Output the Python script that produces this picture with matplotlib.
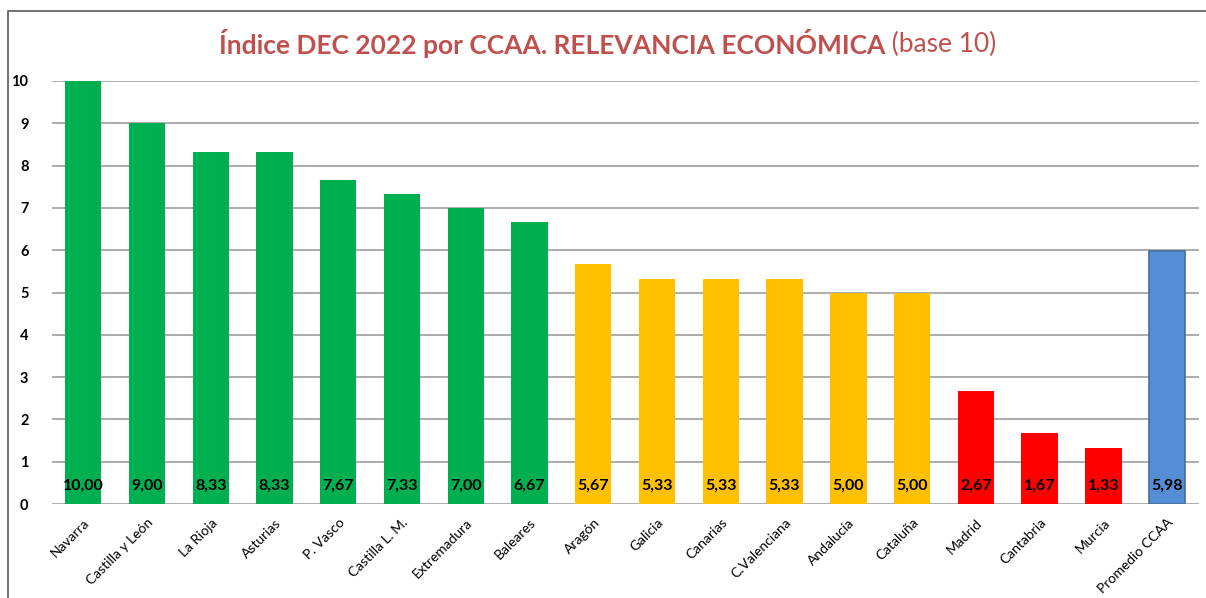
import numpy as np
import matplotlib.pyplot as plt
from matplotlib.patches import Rectangle

regiones = ['Navarra', 'Castilla y León', 'La Rioja', 'Asturias', 'P. Vasco',
            'Castilla L. M.', 'Extremadura', 'Baleares', 'Aragón', 'Galicia',
            'Canarias', 'C.Valenciana', 'Andalucía', 'Cataluña', 'Madrid',
            'Cantabria', 'Murcia', 'Promedio CCAA']
valores = [10.00, 9.00, 8.33, 8.33, 7.67, 7.33, 7.00, 6.67, 5.67, 5.33,
           5.33, 5.33, 5.00, 5.00, 2.67, 1.67, 1.33, 5.98]
grupos = ['alto'] * 8 + ['medio'] * 6 + ['bajo'] * 3 + ['promedio']

colores = {'alto': '#00B050', 'medio': '#FFC000', 'bajo': '#FF0000', 'promedio': '#558ED5'}
bordes = {'alto': 'none', 'medio': 'none', 'bajo': 'none', 'promedio': '#41719C'}

plt.rcParams['font.family'] = ['Lato', 'DejaVu Sans']

fig = plt.figure(figsize=(12.06, 5.98), dpi=100)
# marco del grafico
fig.patches.append(Rectangle((8 / 1206, -0.1), 1.2, 1 - 11 / 598 + 0.1,
                             transform=fig.transFigure, fill=False,
                             edgecolor='#595959', linewidth=1.2))

ax = fig.add_axes([52 / 1206, 1 - 504 / 598, (1199 - 52) / 1206, (504 - 81) / 598])
x = np.arange(len(regiones))
ax.bar(x, valores, width=0.57,
       color=[colores[g] for g in grupos],
       edgecolor=[bordes[g] for g in grupos], linewidth=1.2, zorder=3)

for xi, v in zip(x, valores):
    ax.text(xi, 0.42, f'{v:.2f}'.replace('.', ','), ha='center', va='center',
            fontsize=11.5, fontweight='bold', color='black', zorder=4)

ax.set_xlim(-0.49, 17.5)
ax.set_ylim(0, 10)
ax.set_yticks(range(11))
ax.yaxis.grid(True, color='#A6A6A6', linewidth=1.3, zorder=0)
ax.set_axisbelow(True)
for s in ax.spines.values():
    s.set_visible(False)
ax.tick_params(axis='both', length=0)
ax.tick_params(axis='y', pad=17, labelsize=10.5)
for lbl in ax.get_yticklabels():
    lbl.set_fontweight('bold')
ax.set_xticks(x)
ax.set_xticklabels(regiones, rotation=45, ha='right', rotation_mode='anchor', fontsize=10)
ax.tick_params(axis='x', pad=9)

fig.text(885 / 1206, 1 - 44 / 598, 'Índice DEC 2022 por CCAA. RELEVANCIA ECONÓMICA',
         ha='right', va='center', fontsize=19, fontweight='bold', color='#C0504D')
fig.text(885 / 1206, 1 - 44 / 598, ' (base 10)', ha='left', va='center',
         fontsize=19, color='#C0504D')

plt.savefig('out.png', dpi=100)
